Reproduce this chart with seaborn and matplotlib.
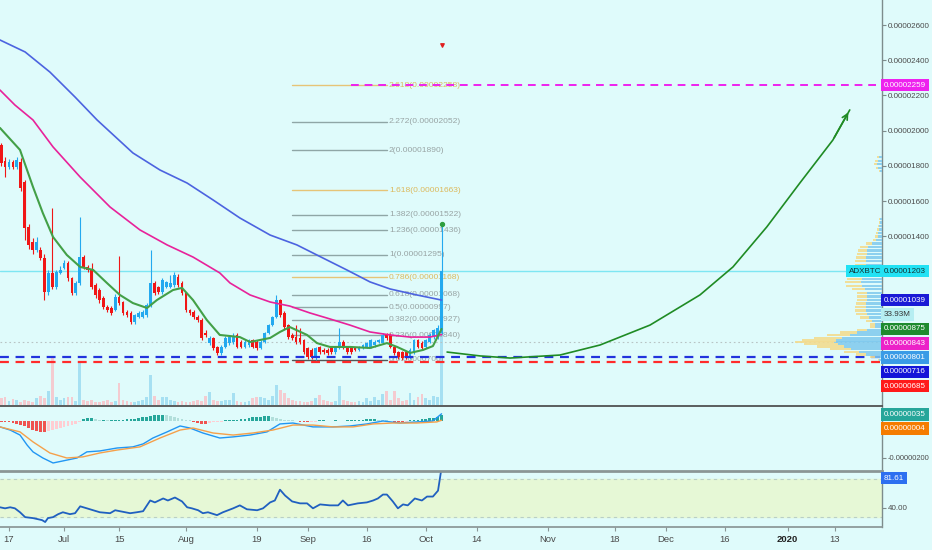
import numpy as np
import pandas as pd
import seaborn as sns
import matplotlib
matplotlib.use('Agg')
import matplotlib.pyplot as plt
from matplotlib.ticker import FixedLocator, FuncFormatter

# ---- daily candles ADX/BTC, day 0 = 2019-06-17 (prices in satoshi) ----
days = np.arange(-2, 111)
opens = [1919, 1830, 1794, 1823, 1794, 1823, 1709, 1454, 1369, 1323, 1323, 1278, 1085, 1193, 1113,
         1193, 1221, 1249, 1164, 1079, 1136, 1283, 1227, 1210, 1125, 1096, 1051, 1000, 994, 983,
         1056, 1028, 971, 966, 915, 943, 943, 954, 1011, 1136, 1113, 1085, 1113, 1113, 1125,
         1170, 1136, 1079, 983, 971, 943, 926, 852, 795, 824, 773, 739, 773, 795, 801,
         841, 801, 773, 784, 812, 801, 767, 801, 852, 897, 943, 1039, 966, 897, 841,
         829, 824, 812, 767, 756, 710, 773, 756, 756, 767, 744, 767, 801, 773, 767,
         767, 756, 767, 773, 773, 784, 801, 795, 841, 841, 773, 744, 744, 744, 716,
         744, 812, 795, 773, 801, 829, 829, 852]
highs = [1930, 1850, 1840, 1835, 1850, 1845, 1720, 1470, 1390, 1395, 1340, 1300, 1210, 1560, 1210,
         1230, 1265, 1260, 1170, 1150, 1510, 1295, 1240, 1250, 1135, 1105, 1060, 1010, 1005, 1075,
         1290, 1035, 980, 975, 960, 975, 980, 1020, 1323, 1145, 1120, 1165, 1150, 1180, 1200,
         1185, 1145, 1085, 990, 980, 955, 935, 870, 835, 830, 780, 785, 835, 840, 850,
         850, 810, 810, 820, 820, 810, 810, 860, 905, 950, 1068, 1045, 975, 905, 850,
         900, 880, 820, 775, 765, 775, 780, 765, 765, 775, 775, 880, 810, 780, 775,
         775, 780, 790, 800, 820, 810, 820, 850, 850, 850, 780, 750, 750, 750, 765,
         820, 820, 805, 820, 850, 875, 900, 1470]
lows = [1800, 1740, 1780, 1785, 1785, 1660, 1380, 1330, 1300, 1310, 1265, 1040, 1070, 1100, 1100,
        1185, 1215, 1150, 1070, 1070, 1125, 1215, 1200, 1100, 1050, 1025, 990, 970, 955, 975,
        1010, 955, 945, 905, 905, 935, 935, 945, 1000, 1070, 1075, 1075, 1105, 1105, 1115,
        1115, 1070, 970, 955, 930, 915, 810, 830, 785, 755, 725, 730, 765, 785, 790,
        765, 765, 765, 775, 765, 755, 760, 795, 845, 890, 935, 945, 875, 820, 815,
        790, 790, 735, 705, 705, 700, 735, 735, 730, 735, 735, 760, 760, 735, 735,
        750, 750, 760, 765, 765, 775, 795, 790, 815, 765, 730, 705, 700, 705, 705,
        735, 765, 760, 765, 795, 820, 820, 845]
closes = [1817, 1794, 1823, 1794, 1834, 1675, 1448, 1352, 1323, 1369, 1278, 1085, 1193, 1113, 1198,
          1210, 1249, 1164, 1079, 1136, 1283, 1227, 1210, 1113, 1068, 1039, 1000, 983, 966, 1056,
          1022, 966, 954, 915, 954, 966, 971, 1011, 1136, 1079, 1085, 1153, 1142, 1136, 1181,
          1125, 1079, 983, 966, 943, 926, 824, 841, 824, 767, 739, 773, 824, 829, 835,
          773, 773, 801, 812, 773, 767, 801, 852, 897, 943, 1039, 954, 886, 829, 824,
          801, 801, 744, 716, 716, 767, 744, 744, 739, 744, 767, 801, 767, 744, 744,
          756, 773, 784, 795, 812, 801, 812, 841, 824, 773, 739, 716, 710, 716, 756,
          812, 773, 767, 812, 841, 869, 881, 1203]
volume_m = [2.5, 3.0, 1.5, 2.2, 1.8, 1.2, 2.0, 1.5, 1.0, 2.5, 3.5, 2.5, 5.2, 17.7, 3.0,
            2.0, 2.5, 3.0, 2.8, 1.5, 15.5, 2.0, 1.5, 1.8, 1.2, 1.0, 1.5, 2.0, 1.0, 1.5,
            8.1, 2.0, 1.5, 1.2, 1.0, 1.5, 2.0, 3.0, 11.0, 3.5, 1.8, 3.0, 3.0, 2.0, 1.5,
            1.2, 1.5, 1.0, 1.2, 1.5, 1.8, 1.5, 3.5, 4.8, 2.0, 1.5, 1.5, 1.8, 2.0, 4.4,
            1.5, 1.2, 1.0, 1.5, 2.5, 3.0, 3.0, 2.5, 2.0, 3.5, 7.4, 5.5, 4.4, 2.5, 2.0,
            1.5, 1.5, 1.2, 1.0, 1.5, 2.5, 3.7, 2.0, 1.5, 1.2, 1.5, 7.0, 2.0, 1.5, 1.0,
            1.2, 1.5, 1.0, 2.5, 1.5, 3.0, 2.0, 4.0, 5.0, 2.0, 5.2, 2.5, 1.5, 2.0, 4.4,
            2.0, 3.0, 4.0, 2.5, 2.0, 3.5, 3.0, 33.93]

# ---- moving averages ----
ma200_d = [-2.3, 4.1, 10.4, 16.8, 22.4, 31.5, 38.4, 45.3, 51.9, 58.7, 66.4, 73.2, 79.8, 85.9, 91.8, 96.9, 103.7, 110]
ma200 = [2515, 2447, 2333, 2191, 2061, 1874, 1777, 1703, 1607, 1505, 1408, 1352, 1278, 1210, 1142, 1102, 1068, 1039]
ma50_d = [-2.3, 1.5, 6.1, 11.2, 18.1, 25.7, 33.3, 40.2, 46.8, 53.6, 56.2, 61.3, 66.4, 71.4, 76.5, 81.6, 86.7, 91.8, 96.9, 102, 107, 110]
ma50 = [2231, 2146, 2061, 1908, 1737, 1567, 1437, 1352, 1283, 1193, 1136, 1068, 1028, 1005, 966, 932, 897, 858, 841, 829, 829, 843]
ema20_d = [-2.3, 2.8, 6.1, 8.6, 11.2, 14.7, 18.1, 21.4, 24.9, 28.2, 31.5, 35.1, 37.6, 41.7, 44.0, 46.8, 50.3, 53.6,
           58.7, 61.3, 66.4, 68.9, 71.4, 75.8, 78.3, 81.6, 86.7, 91.8, 96.1, 98.7, 102, 105.3, 107.8, 110]
ema20 = [2016, 1891, 1681, 1533, 1397, 1295, 1227, 1210, 1136, 1068, 1022, 994, 1039, 1096, 1108, 1039, 926, 841,
         829, 801, 824, 858, 886, 841, 795, 773, 773, 767, 795, 773, 739, 756, 778, 875]

# ---- drawings ----
fib_ratio = ['2.618', '2.272', '2', '1.618', '1.382', '1.236', '1', '0.786', '0.618', '0.5', '0.382', '0.236', '0']
fib_price = [2258, 2052, 1890, 1663, 1522, 1436, 1295, 1168, 1068, 997, 927, 840, 700]
fib_gold = ['2.618', '1.618', '0.786']
fib_from, fib_to = 72, 96
target_price, target_from = 2259, 87
support_blue, support_red = 716, 685
poc_price = 801
arrow_d = [111.4, 119.8, 127.4, 140.1, 150.3, 163, 175.7, 184.1, 192.7, 201.1, 209.5, 213.8]
arrow_p = [744, 722, 710, 727, 784, 897, 1068, 1227, 1454, 1703, 1947, 2118]
alert_price = 2487

# ---- volume profile (right side) ----
vp_price = [1850, 1830, 1810, 1790, 1770, 1500, 1480, 1460, 1440, 1420, 1400, 1380, 1360, 1340, 1320, 1300,
            1280, 1260, 1240, 1220, 1200, 1180, 1160, 1140, 1120, 1100, 1080, 1060, 1040, 1020, 1000, 980,
            960, 940, 920, 900, 885, 870, 855, 840, 825, 810, 800, 790, 775, 760, 745, 730, 715, 700]
vp_up = [3, 4, 5, 4, 2, 2, 2, 3, 3, 4, 4, 6, 10, 14, 15, 15, 16, 16, 16, 17, 18, 19, 20, 21, 20, 17,
         15, 15, 15, 16, 16, 16, 15, 13, 10, 7, 7, 15, 25, 32, 40, 46, 48, 44, 38, 31, 23, 16, 7, 3]
vp_dn = [2, 3, 3, 2, 1, 1, 1, 1, 2, 2, 3, 3, 6, 8, 9, 10, 10, 11, 11, 11, 12, 13, 15, 16, 16, 13,
         10, 10, 10, 10, 11, 11, 11, 9, 6, 5, 5, 10, 17, 23, 28, 34, 39, 34, 27, 21, 15, 10, 5, 1]

# ---- MACD / RSI ----
macd_d = [-2.3, 0.3, 2.8, 4.6, 6.1, 8.6, 11.2, 13.7, 17.3, 19.8, 23.1, 27.5, 31.5, 34.1, 36.6, 40.2, 43.5, 46.0,
          49.3, 53.6, 57.0, 61.3, 65.6, 68.9, 72.2, 77.3, 82.4, 86.7, 91.0, 95.1, 99.4, 103.7, 107.8, 110]
macd = [-32, -49, -76, -130, -167, -200, -227, -216, -200, -167, -162, -146, -140, -124, -92, -59, -27, -38,
        -65, -92, -86, -76, -59, -16, -11, -32, -32, -27, -16, 0, -11, -5, 0, 39]
signal_d = [-2.3, 2.8, 6.1, 10.4, 14.7, 18.8, 23.1, 27.5, 33.3, 38.4, 43.5, 46.8, 51.9, 57.0, 62.0, 67.1, 72.2,
            77.3, 82.4, 87.5, 92.6, 97.6, 103.7, 108.8, 110]
signal = [-32, -59, -113, -173, -200, -194, -173, -157, -140, -92, -49, -38, -65, -76, -65, -49, -22,
          -22, -32, -32, -16, -11, -11, -5, 4]
macd_hist = [-5, -8, -8, -11, -16, -22, -27, -38, -48, -54, -59, -59,
             -54, -48, -43, -38, -32, -27, -22, -16, -8, 11, 16, 16, 11,
             5, 5, 3, 3, 5, 5, 8, 11, 11, 13, 16, 19, 22, 27, 30, 32, 32, 30, 27,
             22, 16, 11, 5, 3, -8, -13, -16, -16, -13, -8, -5, -3, 3, 5, 8,
             8, 11, 13, 16, 19, 22, 24, 27, 27, 22, 16, 11, 8, 5, 3, 0,
             -5, -8, -8, -5, -3, 3, 3, 0, 0, 3, 0, 0, 3, 3,
             5, 8, 8, 11, 11, 13, 8, 5, 3, 0, -3, -5, -5, -3, 3, 5, 8, 11, 13,
             16, 16, 24, 35]
rsi_d = [-2.3, -1.0, 0.3, 1.5, 2.8, 4.1, 6.1, 8.4, 9.2, 9.9, 11.2, 12.5, 13.7, 15.5, 16.8, 18.1, 19.8, 21.4,
         23.1, 25.7, 27.0, 28.2, 30.8, 32.5, 34.1, 35.9, 37.1, 39.2, 40.4, 42.2, 44.0, 45.3, 46.5, 48.1, 49.3,
         50.6, 52.9, 54.4, 57.0, 58.7, 60.5, 63.1, 64.6, 66.4, 67.6, 68.9, 70.2, 72.0, 74.0, 75.8, 77.3, 79.1,
         81.6, 83.7, 84.9, 86.2, 88.7, 91.0, 92.6, 93.8, 95.1, 96.1, 97.6, 98.9, 100.2, 101.4, 103.2, 105.0,
         106.3, 107.8, 109.1, 110]
rsi = [40.3, 39.2, 40.3, 39.2, 35.1, 30.0, 29.0, 26.9, 24.9, 29.0, 30.0, 33.1, 35.1, 33.1, 34.1, 41.3, 39.2, 37.2,
       35.1, 34.1, 37.2, 36.2, 34.1, 35.1, 36.2, 47.4, 45.4, 49.5, 47.4, 50.5, 46.4, 40.3, 39.2, 37.2, 34.1,
       35.1, 32.1, 35.1, 39.2, 42.3, 38.2, 37.2, 39.2, 45.4, 47.4, 58.7, 52.6, 46.4, 44.4, 44.4, 39.2, 43.3,
       42.3, 42.3, 47.4, 42.3, 44.4, 45.4, 47.4, 49.5, 53.6, 53.6, 46.4, 39.2, 43.3, 42.3, 49.5, 47.4,
       51.5, 51.5, 57.7, 81.61]

price_ticks = [1400, 1600, 1800, 2000, 2200, 2400, 2600]
tick_days = [0, 14, 28, 45, 63, 76, 91, 106, 119, 137, 154, 167, 182, 198, 210]
tick_text = ['17', 'Jul', '15', 'Aug', '19', 'Sep', '16', 'Oct', '14', 'Nov', '18', 'Dec', '16', '2020', '13']

# ---------------------------------------------------------------
bg = '#dffbfb'
sns.set_theme(style='white')
plt.rcParams['font.family'] = ['Liberation Sans', 'DejaVu Sans']
fs = 5.8

W, H = 932, 550
fig = plt.figure(figsize=(W / 100, H / 100), dpi=100, facecolor=bg)


def rect(top, bottom):
    return [0, 1 - bottom / H, 882 / W, (bottom - top) / H]


ax_v = fig.add_axes(rect(0, 405), facecolor=bg)
ax = fig.add_axes(rect(0, 405), sharex=ax_v)
ax.patch.set_visible(False)
ax_p = fig.add_axes(rect(0, 405), sharey=ax)
ax_p.patch.set_visible(False)
ax_m = fig.add_axes(rect(406, 470), sharex=ax_v, facecolor=bg)
ax_r = fig.add_axes(rect(471, 527), sharex=ax_v, facecolor=bg)

up = np.array(closes) >= np.array(opens)
c_up, c_dn = '#23a9ef', '#f01616'
cols = np.where(up, c_up, c_dn)

# volume
vcols = np.where(up, '#a6e0f2', '#f4cbd0')
ax_v.bar(days, volume_m, width=0.7, color=vcols, linewidth=0)
ax_v.set_ylim(0, 149.4)

# candles
o, c = np.array(opens), np.array(closes)
ax.vlines(days, lows, highs, colors=cols, linewidth=0.8, zorder=3)
ax.bar(days, np.maximum(np.abs(c - o), 3), bottom=np.minimum(o, c), width=0.7,
       color=cols, linewidth=0, zorder=4)

# moving averages
sns.lineplot(x=ma200_d, y=ma200, ax=ax, color='#4c63e0', lw=1.2, sort=False, estimator=None, legend=False, zorder=5)
sns.lineplot(x=ma50_d, y=ma50, ax=ax, color='#e8229a', lw=1.2, sort=False, estimator=None, legend=False, zorder=5)
sns.lineplot(x=ema20_d, y=ema20, ax=ax, color='#43a047', lw=1.5, sort=False, estimator=None, legend=False, zorder=5)

# horizontal drawings
ax.axhline(closes[-1], color='#7ee6f2', lw=1, zorder=2)
ax.axhline(poc_price, color='#b8c4c4', lw=0.8, ls=(0, (1.5, 2.5)), zorder=2)
ax.axhline(support_blue, color='#2233dd', lw=1.6, ls=(0, (4, 3)), zorder=6)
ax.axhline(support_red, color='#ff2a2a', lw=1.6, ls=(0, (4, 3)), zorder=6)
ax.plot([target_from, 222], [target_price] * 2, color='#ee22ee', lw=1.4, ls=(0, (4, 3)), zorder=6)

# fib extension
for r, p in zip(fib_ratio, fib_price):
    gold = r in fib_gold
    lc = '#e6c477' if gold else ('#555555' if r == '0' else '#8fa6a6')
    ax.plot([fib_from, fib_to], [p, p], color=lc, lw=1, zorder=2)
    ax.text(fib_to + 0.6, p, f'{r}({p * 1e-8:.8f})', fontsize=6.1, va='center', ha='left',
            color='#dcb95c' if gold else '#98a4a4', zorder=2)

# projected path
sns.lineplot(x=arrow_d, y=arrow_p, ax=ax, color='#1f8b24', lw=1.2, sort=False, estimator=None, legend=False, zorder=6)
ax.annotate('', xy=(arrow_d[-1], arrow_p[-1]), xytext=(arrow_d[-2], arrow_p[-2]),
            arrowprops=dict(arrowstyle='->', color='#1f8b24', lw=1.2, mutation_scale=10))
ax.scatter([days[-1]], [alert_price], marker='v', s=6, color='#e02020', zorder=7)
ax.scatter([days[-1]], [highs[-1]], marker='o', s=8, color='#2e9e3e', zorder=7)

ax.set_ylim(443.5, 2741.9)
ax.set_xlim(-2.29, 222)

# volume profile
ax_p.barh(vp_price, vp_up, height=13, left=0, color='#7fc9ee', alpha=0.85, linewidth=0)
ax_p.barh(vp_price, vp_dn, height=13, left=vp_up, color='#f3dc90', alpha=0.9, linewidth=0)
ax_p.set_xlim(882, 0)
ax_p.axis('off')

# MACD
hist = np.array(macd_hist)
prev = np.concatenate([[hist[0]], hist[:-1]])
hcols = np.where(hist >= 0, np.where(hist >= prev, '#26a69a', '#b2dfdb'),
                 np.where(hist <= prev, '#ef5350', '#ffcdd2'))
ax_m.bar(days, hist, width=0.7, color=hcols, linewidth=0)
sns.lineplot(x=macd_d, y=macd, ax=ax_m, color='#2196f3', lw=1, sort=False, estimator=None, legend=False)
sns.lineplot(x=signal_d, y=signal, ax=ax_m, color='#f5a04a', lw=1, sort=False, estimator=None, legend=False)
ax_m.set_ylim(-265, 81)

# RSI
ax_r.axhspan(30, 70, color='#e6f8d6', zorder=0)
for lvl in (30, 70):
    ax_r.axhline(lvl, color='#b9cfc6', lw=0.8, ls=(0, (3, 3)))
sns.lineplot(x=rsi_d, y=rsi, ax=ax_r, color='#2060c0', lw=1.3, sort=False, estimator=None, legend=False)
ax_r.set_ylim(19.7, 78.2)

# axes styling
sat = FuncFormatter(lambda v, _: f'{v * 1e-8:.8f}')
for a in (ax_v, ax, ax_m, ax_r):
    for s in a.spines.values():
        s.set_visible(False)
    a.set_ylabel('')
    a.set_xlabel('')
    a.grid(False)
for a in (ax, ax_m, ax_r):
    a.spines['right'].set_visible(True)
    a.spines['right'].set_color('#7d8c8c')
    a.spines['right'].set_linewidth(1)
    a.yaxis.tick_right()
    a.tick_params(axis='y', direction='out', length=3, width=0.8, color='#7d8c8c',
                  labelsize=fs, labelcolor='#4a4a4a', pad=1.5, right=True, left=False)
ax_m.tick_params(axis='y', labelsize=5.4, pad=1)
ax_v.set_yticks([])
ax_v.tick_params(axis='x', bottom=False, labelbottom=False)
ax.tick_params(axis='x', bottom=False, labelbottom=False)
ax_m.tick_params(axis='x', bottom=False, labelbottom=False)
ax.yaxis.set_major_locator(FixedLocator(price_ticks))
ax.yaxis.set_major_formatter(sat)
ax_m.yaxis.set_major_locator(FixedLocator([-200]))
ax_m.yaxis.set_major_formatter(sat)
ax_r.yaxis.set_major_locator(FixedLocator([40]))
ax_r.yaxis.set_major_formatter(FuncFormatter(lambda v, _: f'{v:.2f}'))

ax_m.spines['top'].set_visible(True)
ax_m.spines['top'].set_color('#4a4a4a')
ax_r.spines['top'].set_visible(True)
ax_r.spines['top'].set_color('#8a9696')
ax_r.spines['top'].set_linewidth(2)
ax_r.spines['bottom'].set_visible(True)
ax_r.spines['bottom'].set_color('#8a9696')
ax_r.set_xticks(tick_days)
ax_r.set_xticklabels(tick_text)
ax_r.tick_params(axis='x', bottom=True, labelbottom=True, direction='out', length=3, width=0.8,
                 color='#8a9696', labelsize=6.8, labelcolor='#4a4a4a', pad=3)
for t in ax_r.get_xticklabels():
    if t.get_text() == '2020':
        t.set_fontweight('bold')
        t.set_color('#222222')


# price scale labels, stacked like the platform does
def stack_labels(items, top_px, gap=14.3):
    rows = []
    for a, val, txt, fc, tc in items:
        py = H - a.transData.transform((0, val))[1]
        rows.append([py, txt, fc, tc])
    rows.sort(key=lambda r: r[0])
    last = top_px + 7 - gap
    for r in rows:
        r[0] = max(r[0], last + gap)
        last = r[0]
        fig.text(884 / W, 1 - r[0] / H, r[1], fontsize=fs, color=r[3], ha='left', va='center',
                 bbox=dict(boxstyle='square,pad=0.35', fc=r[2], ec='none'))
    return rows


main_rows = stack_labels([
    (ax, target_price, f'{target_price * 1e-8:.8f}', '#ee22ee', 'white'),
    (ax, closes[-1], f'{closes[-1] * 1e-8:.8f}', '#22e2f4', '#123333'),
    (ax, ma200[-1], f'{ma200[-1] * 1e-8:.8f}', '#1a1ad6', 'white'),
    (ax_v, volume_m[-1], f'{volume_m[-1]:.2f}M', '#b6eef2', '#333333'),
    (ax, ema20[-1], f'{ema20[-1] * 1e-8:.8f}', '#1e8a2e', 'white'),
    (ax, ma50[-1], f'{ma50[-1] * 1e-8:.8f}', '#ec22c8', 'white'),
    (ax, poc_price, f'{poc_price * 1e-8:.8f}', '#3a9be6', 'white'),
    (ax, support_blue, f'{support_blue * 1e-8:.8f}', '#1414d8', 'white'),
    (ax, support_red, f'{support_red * 1e-8:.8f}', '#ff1a1a', 'white'),
], 0)
close_y = [r[0] for r in main_rows if r[1] == f'{closes[-1] * 1e-8:.8f}'][0]
fig.text(881 / W, 1 - close_y / H, 'ADXBTC', fontsize=fs, color='#123333', ha='right', va='center',
         bbox=dict(boxstyle='square,pad=0.35', fc='#22e2f4', ec='none'))

stack_labels([
    (ax_m, macd_hist[-1], f'{macd_hist[-1] * 1e-8:.8f}', '#26a69a', 'white'),
    (ax_m, signal[-1], f'{signal[-1] * 1e-8:.8f}', '#f57c00', 'white'),
], 406)
stack_labels([(ax_r, rsi[-1], f'{rsi[-1]:.2f}', '#2d6ff0', 'white')], 471)

fig.savefig('out.png', dpi=100, facecolor=bg)
